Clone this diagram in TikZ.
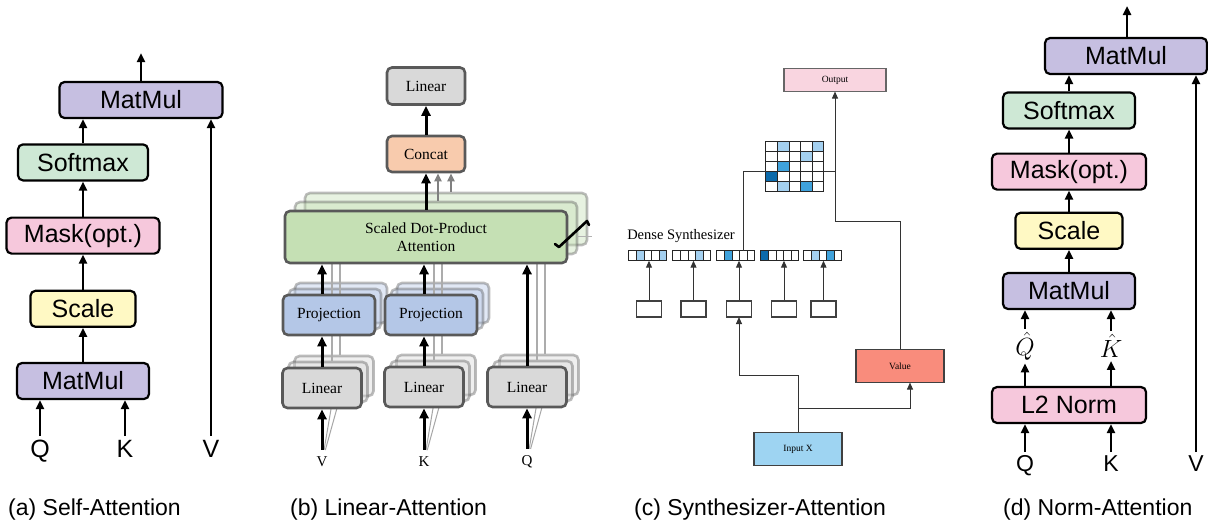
\documentclass[tikz,border=0pt]{standalone}
\usepackage{fontspec}
\setmainfont{Liberation Serif}
\newfontfamily\arialfont{Liberation Sans}
\usetikzlibrary{positioning,calc,arrows.meta}
\definecolor{matmulpurple}{RGB}{198,191,225}
\definecolor{softmaxgreen}{RGB}{206,232,213}
\definecolor{maskpink}{RGB}{246,200,220}
\definecolor{scaleyellow}{RGB}{255,249,196}
\definecolor{lingray}{RGB}{217,217,217}
\definecolor{concatorange}{RGB}{248,203,173}
\definecolor{attgreen}{RGB}{197,224,180}
\definecolor{projblue}{RGB}{180,199,231}
\definecolor{boxedge}{RGB}{89,89,89}
\definecolor{outpink}{RGB}{249,213,224}
\definecolor{inputblue}{RGB}{158,212,242}
\definecolor{valuered}{RGB}{249,140,124}
\definecolor{celllight}{RGB}{164,208,240}
\definecolor{cellmid}{RGB}{63,162,220}
\definecolor{celldark}{RGB}{11,106,171}

\begin{document}
\begin{tikzpicture}[
    x=1pt, y=-1pt,
    >={Triangle[length=9pt,width=8pt]},
    block/.style={
        rectangle, draw=black, line width=2.2pt,
        rounded corners=5pt, minimum height=36pt, inner sep=0pt,
        font=\arialfont\fontsize{25pt}{30pt}\selectfont
    },
    matmulbox/.style={block, fill=matmulpurple},
    softbox/.style={block, fill=softmaxgreen},
    maskbox/.style={block, fill=maskpink},
    scalebox/.style={block, fill=scaleyellow},
    inlabel/.style={inner sep=0pt, text height=0.72em, text depth=0pt,
        font=\arialfont\fontsize{25pt}{30pt}\selectfont},
    hatlabel/.style={inner sep=3pt, font=\fontsize{24pt}{28pt}\selectfont},
    arrow/.style={->, line width=2.5pt},
    sbox/.style={
        rectangle, draw=boxedge, line width=2.6pt,
        rounded corners=5pt, inner sep=0pt,
        font=\fontsize{15.5pt}{18pt}\selectfont
    },
    linbox/.style={sbox, fill=lingray, minimum width=79pt, minimum height=40pt},
    projbox/.style={sbox, fill=projblue, minimum width=92pt, minimum height=40pt},
    concatbox/.style={sbox, fill=concatorange, minimum width=78pt, minimum height=36pt},
    attbox/.style={sbox, fill=attgreen, minimum width=282pt, minimum height=52pt, align=center},
    ghost/.style={opacity=0.4},
    blabel/.style={inner sep=0pt, font=\fontsize{15pt}{18pt}\selectfont},
    bigarrow/.style={-{Triangle[length=10pt,width=9pt]}, line width=3pt},
    greyarrow/.style={-{Triangle[length=8pt,width=7pt]}, line width=2.4pt, gray},
    greyline/.style={line width=1.8pt, gray!65},
    fanline/.style={line width=1pt, gray!70},
    cbox/.style={rectangle, draw=black!75, line width=1.1pt, inner sep=0pt,
        font=\fontsize{9.5pt}{11pt}\selectfont},
    cell/.style={draw=black!85, line width=0.8pt},
    cline/.style={line width=1pt, black!80},
    carrow/.style={cline, -{Triangle[length=7pt,width=6pt]}, shorten >=-0.5pt},
    caption/.style={anchor=west, inner sep=0pt,
        font=\arialfont\fontsize{23pt}{28pt}\selectfont}
]
\path[use as bounding box, fill=white] (0,0) rectangle (1208,523);

% (a) 셀프 어텐션
\node[matmulbox, minimum width=132pt] (amm1) at (83,381) {MatMul};
\node[scalebox, minimum width=105pt, above=34pt of amm1] (ascale) {Scale};
\node[maskbox, minimum width=153pt, above=35pt of ascale] (amask) {Mask(opt.)};
\node[softbox, minimum width=130pt, above=35pt of amask] (asoft) {Softmax};
\node[matmulbox, minimum width=163pt] (amm2) at (141,100) {MatMul};
\node[inlabel] (aq) at (40,454) {Q};
\node[inlabel] (ak) at (125,454) {K};
\node[inlabel] (av) at (211,454) {V};
\coordinate (aout) at (141,53);

\draw[arrow, shorten <=14pt] (aq) -- (aq |- amm1.south);
\draw[arrow, shorten <=14pt] (ak) -- (ak |- amm1.south);
\draw[arrow, shorten <=14pt] (av) -- (av |- amm2.south);
\draw[arrow] (amm1) -- (ascale);
\draw[arrow] (ascale) -- (amask);
\draw[arrow] (amask) -- (asoft);
\draw[arrow] (asoft) -- (asoft |- amm2.south);
\draw[arrow] (amm2) -- (aout);

% (b) 선형 어텐션: 뒤쪽 복사본
\node[blabel] (labV) at (322,462) {V};
\node[blabel] (labK) at (424,462) {K};
\node[blabel] (labQ) at (527,462) {Q};
\foreach \s in {2,1} {
    \node[linbox, ghost] (linVg\s) at (322+6*\s, 388-6*\s) {};
    \node[linbox, ghost] (linKg\s) at (424+6*\s, 387-6*\s) {};
    \node[linbox, ghost] (linQg\s) at (527+6*\s, 387-6*\s) {};
    \node[projbox, ghost] (projVg\s) at (329+6*\s, 315-6*\s) {};
    \node[projbox, ghost] (projKg\s) at (431+6*\s, 315-6*\s) {};
    \node[attbox, ghost] (attg\s) at (426+10*\s, 237-9*\s) {};
}

% 회색 보조선 (앞쪽 블록 뒤)
\foreach \s/\dx in {1/4pt, 2/6pt} {
    \draw[greyline] ([xshift=\dx]linVg\s.north) -- ([xshift=\dx]linVg\s.north |- attg\s.south);
    \draw[greyline] ([xshift=\dx]linKg\s.north) -- ([xshift=\dx]linKg\s.north |- attg\s.south);
    \draw[greyline] ([xshift=\dx]linQg\s.north) -- ([xshift=\dx]linQg\s.north |- attg\s.south);
    \draw[fanline, shorten <=7pt] (labV) -- ([xshift=\dx]linVg\s.south);
    \draw[fanline, shorten <=7pt] (labK) -- ([xshift=\dx]linKg\s.south);
    \draw[fanline, shorten <=7pt] (labQ) -- ([xshift=\dx]linQg\s.south);
}

% (b) 앞쪽 블록
\node[linbox] (linV) at (322,388) {Linear};
\node[linbox] (linK) at (424,387) {Linear};
\node[linbox] (linQ) at (527,387) {Linear};
\node[projbox] (projV) at (329,315) {Projection};
\node[projbox] (projK) at (431,315) {Projection};
\node[attbox] (att) at (426,237) {Scaled Dot-Product\\Attention};
\node[concatbox] (concat) at (426,154) {Concat};
\node[linbox, minimum width=78pt, minimum height=37pt] (linO) at (426,86) {Linear};

% (b) 화살표
\draw[bigarrow, shorten <=7pt] (labV) -- (labV |- linV.south);
\draw[bigarrow, shorten <=7pt] (labK) -- (labK |- linK.south);
\draw[bigarrow, shorten <=7pt] (labQ) -- (labQ |- linQ.south);
\draw[bigarrow] (labV |- linV.north) -- (labV |- projV.south);
\draw[bigarrow] (labK |- linK.north) -- (labK |- projK.south);
\draw[bigarrow] (labV |- projV.north) -- (labV |- att.south);
\draw[bigarrow] (labK |- projK.north) -- (labK |- att.south);
\draw[bigarrow] (labQ |- linQ.north) -- (labQ |- att.south);
\draw[greyarrow] ([xshift=2pt]attg1.north) -- ([xshift=2pt]attg1.north |- concat.south);
\draw[greyarrow] ([xshift=5pt]attg2.north) -- ([xshift=5pt]attg2.north |- concat.south);
\draw[bigarrow] (att) -- (concat);
\draw[bigarrow] (concat) -- (linO);

% 헤드 수 표시
\draw[line width=2.6pt, line cap=round, line join=round]
    (555,244) -- (559,247) -- (587,221) -- (589,225);
\draw[gray!60, line width=1pt] (577,236) -- (592,236);

% (c) 신시사이저 어텐션
\node[cbox, fill=outpink, draw=black!60, minimum width=102pt, minimum height=23pt] (out) at (835,80) {Output};
\node[inner sep=0pt, minimum width=58pt, minimum height=50pt] (grid) at (795,167) {};
\node[inner sep=0pt, font=\fontsize{14.5pt}{17pt}\selectfont] (dense) at (681,236) {Dense Synthesizer};
\foreach \i/\vx/\bx in {1/648/649, 2/692/693.5, 3/736/739, 4/780/784, 5/823/823.5} {
    \node[inner sep=0pt, minimum width=38pt, minimum height=10pt] (vec\i) at (\vx,256) {};
    \node[cbox, minimum width=25pt, minimum height=16pt] (sb\i) at (\bx,309) {};
}
\node[cbox, fill=inputblue, minimum width=88pt, minimum height=33pt] (inX) at (798,449) {Input X};
\node[cbox, fill=valuered, minimum width=88pt, minimum height=33pt] (val) at (900,366) {Value};

% 셀 색칠
\foreach \r/\c/\col in {1/2/celllight, 1/5/celllight, 2/4/celllight, 3/2/cellmid,
                        4/1/celldark, 5/2/celllight, 5/4/cellmid} {
    \fill[\col] ($(grid.north west)+(11.6*\c-11.6, 10*\r-10)$) rectangle ++(11.6,10);
    \fill[\col] ($(vec\r.north west)+(7.6*\c-7.6, 0)$) rectangle ++(7.6,10);
}
\foreach \r in {1,...,5} {
    \foreach \c in {1,...,5} {
        \draw[cell] ($(grid.north west)+(11.6*\c-11.6, 10*\r-10)$) rectangle ++(11.6,10);
        \draw[cell] ($(vec\r.north west)+(7.6*\c-7.6, 0)$) rectangle ++(7.6,10);
    }
    \draw[carrow] (sb\r) -- (sb\r |- vec\r.south);
}

\coordinate (j1) at (798,375);
\coordinate (j2) at (798,408);
\coordinate (j3) at (835,221);
\draw[carrow] (inX) -- (j1) -| (sb3);
\draw[carrow] (j2) -| ([xshift=10pt]val.south);
\draw[carrow] (val) |- (j3) -- (out);
\draw[cline] ([xshift=7pt]vec3.north) |- ([yshift=-4pt]grid.west);
\draw[cline] ([yshift=-4pt]grid.east) -- ([yshift=-4pt]grid.east -| out.south);

% (d) 노름 어텐션
\node[matmulbox, minimum width=162pt] (dmm2) at (1126,56) {MatMul};
\node[maskbox, minimum width=154pt] (dnorm) at (1069,405) {L2 Norm};
\node[matmulbox, minimum width=132pt] (dmm1) at (1069,291) {MatMul};
\node[scalebox, minimum width=107pt, above=22pt of dmm1] (dscale) {Scale};
\node[maskbox, minimum width=154pt, above=21pt of dscale] (dmask) {Mask(opt.)};
\node[softbox, minimum width=132pt, above=23pt of dmask] (dsoft) {Softmax};
\node[hatlabel] (dqh) at (1025,346) {$\hat{Q}$};
\node[hatlabel] (dkh) at (1111,346) {$\hat{K}$};
\node[inlabel, font=\arialfont\fontsize{23pt}{28pt}\selectfont] (dq) at (1025,468) {Q};
\node[inlabel, font=\arialfont\fontsize{23pt}{28pt}\selectfont] (dk) at (1111,468) {K};
\node[inlabel, font=\arialfont\fontsize{23pt}{28pt}\selectfont] (dv) at (1196,468) {V};
\coordinate (dout) at (1127,6);

\draw[arrow, shorten <=12pt] (dq) -- (dq |- dnorm.south);
\draw[arrow, shorten <=12pt] (dk) -- (dk |- dnorm.south);
\draw[arrow, shorten <=12pt] (dv) -- (dv |- dmm2.south);
\draw[arrow] (dq |- dnorm.north) -- (dqh);
\draw[arrow] (dk |- dnorm.north) -- (dkh);
\draw[arrow] (dqh) -- (dqh |- dmm1.south);
\draw[arrow] (dkh) -- (dkh |- dmm1.south);
\draw[arrow] (dmm1) -- (dscale);
\draw[arrow] (dscale) -- (dmask);
\draw[arrow] (dmask) -- (dsoft);
\draw[arrow] (dsoft) -- (dsoft |- dmm2.south);
\draw[arrow] (dmm2.north -| dout) -- (dout);

% 캡션
\node[caption] (capa) at (8,510) {(a) Self-Attention};
\node[caption] (capb) at (290,510) {(b) Linear-Attention};
\node[caption] (capc) at (634,510) {(c) Synthesizer-Attention};
\node[caption] (capd) at (1003,510) {(d) Norm-Attention};

\end{tikzpicture}
\end{document}
